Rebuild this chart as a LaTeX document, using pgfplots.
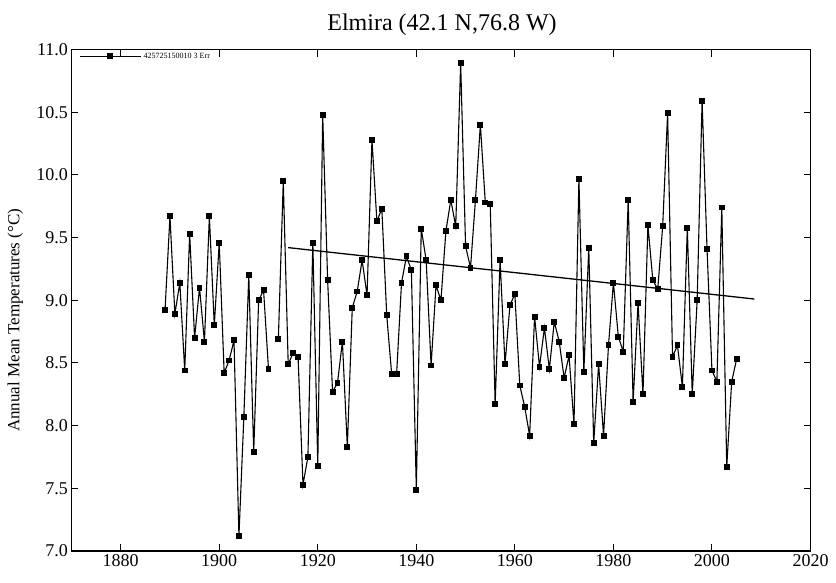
\documentclass[border=0pt]{standalone}
\usepackage{fontspec}
\setmainfont{Liberation Serif}
\usepackage{pgfplots}
\pgfplotsset{compat=1.18}
\begin{document}
\begin{tikzpicture}
\begin{axis}[
    name=ax, at={(0,0)}, anchor=south west,
    scale only axis, width=739pt, height=501.5pt,
    xmin=1870, xmax=2020, ymin=7, ymax=11,
    xtick={1880,1900,1920,1940,1960,1980,2000,2020},
    ytick={7,7.5,8,8.5,9,9.5,10,10.5,11},
    tick align=inside, major tick length=7pt,
    axis line style={line width=1.3pt},
    every tick/.style={black, line width=1pt},
    /pgf/number format/assume math mode=true,
    x tick label style={/pgf/number format/1000 sep={}, font=\fontsize{18}{18}\selectfont},
    y tick label style={
        /pgf/number format/.cd, fixed, fixed zerofill, precision=1,
        /tikz/.cd, font=\fontsize{18}{18}\selectfont},
    unbounded coords=jump,
    ylabel={Annual Mean Temperatures (°C)},
    every axis y label/.style={at={(rel axis cs:0,0.46)}, xshift=-56pt,
        rotate=90, anchor=center, font=\fontsize{17}{17}\selectfont},
    legend style={at={(rel axis cs:0,1)}, anchor=north west, xshift=8pt, yshift=-1pt,
        draw=none, fill=none, inner sep=0pt, font=\fontsize{8}{9}\selectfont,
        cells={anchor=west}},
    legend image code/.code={
        \draw[mark repeat=2, mark phase=2] plot coordinates {(0pt,0pt) (30pt,0pt) (61pt,0pt)};},
]
\addplot [black, line width=1.1pt, mark=square*, mark size=2.4pt,
          mark options={solid, fill=black}] table {
1889 8.92
1890 9.67
1891 8.89
1892 9.14
1893 8.44
1894 9.53
1895 8.70
1896 9.10
1897 8.67
1898 9.67
1899 8.80
1900 9.46
1901 8.42
1902 8.52
1903 8.68
1904 7.12
1905 8.07
1906 9.20
1907 7.79
1908 9.00
1909 9.08
1910 8.45
1911 nan
1912 8.69
1913 9.95
1914 8.49
1915 8.58
1916 8.55
1917 7.53
1918 7.75
1919 9.46
1920 7.68
1921 10.48
1922 9.16
1923 8.27
1924 8.34
1925 8.67
1926 7.83
1927 8.94
1928 9.07
1929 9.32
1930 9.04
1931 10.28
1932 9.63
1933 9.73
1934 8.88
1935 8.41
1936 8.41
1937 9.14
1938 9.35
1939 9.24
1940 7.49
1941 9.57
1942 9.32
1943 8.48
1944 9.12
1945 9.00
1946 9.55
1947 9.80
1948 9.59
1949 10.89
1950 9.43
1951 9.26
1952 9.80
1953 10.40
1954 9.78
1955 9.77
1956 8.17
1957 9.32
1958 8.49
1959 8.96
1960 9.05
1961 8.32
1962 8.15
1963 7.92
1964 8.87
1965 8.47
1966 8.78
1967 8.45
1968 8.83
1969 8.67
1970 8.38
1971 8.56
1972 8.01
1973 9.97
1974 8.43
1975 9.42
1976 7.86
1977 8.49
1978 7.92
1979 8.64
1980 9.14
1981 8.71
1982 8.59
1983 9.80
1984 8.19
1985 8.98
1986 8.25
1987 9.60
1988 9.16
1989 9.09
1990 9.59
1991 10.49
1992 8.55
1993 8.64
1994 8.31
1995 9.58
1996 8.25
1997 9.00
1998 10.59
1999 9.41
2000 8.44
2001 8.35
2002 9.74
2003 7.67
2004 8.35
2005 8.53
};
\addlegendentry{425725150010 3 Err}
% linear trend
\addplot [black, line width=1.3pt, forget plot] coordinates {(1914,9.42) (2008.6,9.01)};
\end{axis}
\node[anchor=base, font=\fontsize{24}{24}\selectfont, xshift=370.6pt, yshift=18.5pt]
    at (ax.north west) {Elmira (42.1 N,76.8 W)};
\pgfresetboundingbox
\path[use as bounding box] ([xshift=-71.4pt, yshift=-31pt]ax.south west)
    rectangle ([xshift=25.5pt, yshift=49.5pt]ax.north east);
\end{tikzpicture}
\end{document}
